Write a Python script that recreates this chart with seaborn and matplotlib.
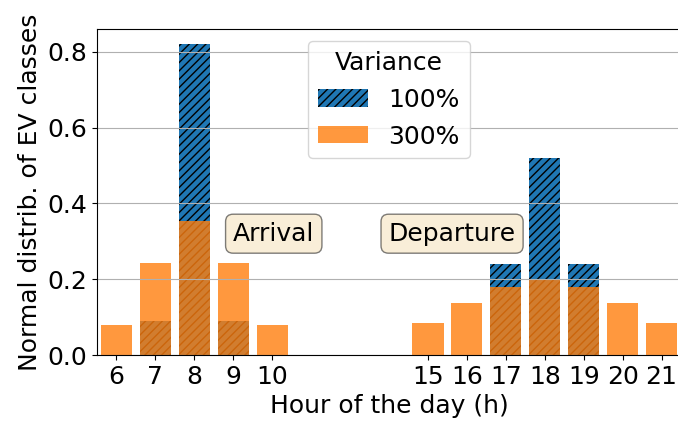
import matplotlib
matplotlib.use("Agg")
import matplotlib.pyplot as plt
import seaborn as sns
import pandas as pd

# ---------------------------------------------------------------
# Data: normal distribution of EV classes per hour
# ---------------------------------------------------------------
hours = [6, 7, 8, 9, 10, 15, 16, 17, 18, 19, 20, 21]
var_100 = [0.0, 0.09, 0.82, 0.09, 0.0, 0.0, 0.0, 0.24, 0.52, 0.24, 0.0, 0.0]
var_300 = [0.08, 0.243, 0.353, 0.243, 0.08, 0.085, 0.136, 0.18, 0.2, 0.18, 0.136, 0.085]
labels = ["100%", "300%"]

# hours 11-14 are squeezed out of the axis (3 empty slots)
slot = [h - 6 if h <= 10 else h - 7 for h in hours]
df = pd.DataFrame({"slot": slot, "v100": var_100, "v300": var_300})

FS = 18
fig = plt.figure(figsize=(6.78, 4.23), dpi=100)
ax = fig.add_axes([97 / 678, 68 / 423, 584 / 678, 326 / 423])

sns.barplot(data=df, x="slot", y="v100", native_scale=True, width=0.8,
            color="#1f77b4", saturation=1, errorbar=None, hatch="////",
            edgecolor="black", linewidth=0, label=labels[0], ax=ax)
sns.barplot(data=df, x="slot", y="v300", native_scale=True, width=0.8,
            color="#ff7f0e", saturation=1, errorbar=None, alpha=0.8,
            linewidth=0, label=labels[1], ax=ax)

ax.set_xlim(-0.5, 14.5)
ax.set_ylim(0, 0.86)
ax.set_xticks(slot, [str(h) for h in hours])
ax.set_yticks([0.0, 0.2, 0.4, 0.6, 0.8])
ax.tick_params(labelsize=FS)
ax.yaxis.grid(True)
ax.set_axisbelow("line")

ax.set_xlabel("Hour of the day (h)", fontsize=FS)
ax.set_ylabel("Normal distrib. of EV classes", fontsize=FS)

box = dict(boxstyle="round", facecolor="wheat", alpha=0.5)
ax.text(4.04, 0.32, "Arrival", fontsize=FS, ha="center", va="center", bbox=box)
ax.text(8.62, 0.32, "Departure", fontsize=FS, ha="center", va="center", bbox=box)

ax.legend(title="Variance", loc="upper center", fontsize=FS, title_fontsize=FS)

fig.savefig("out.png", dpi=100)
